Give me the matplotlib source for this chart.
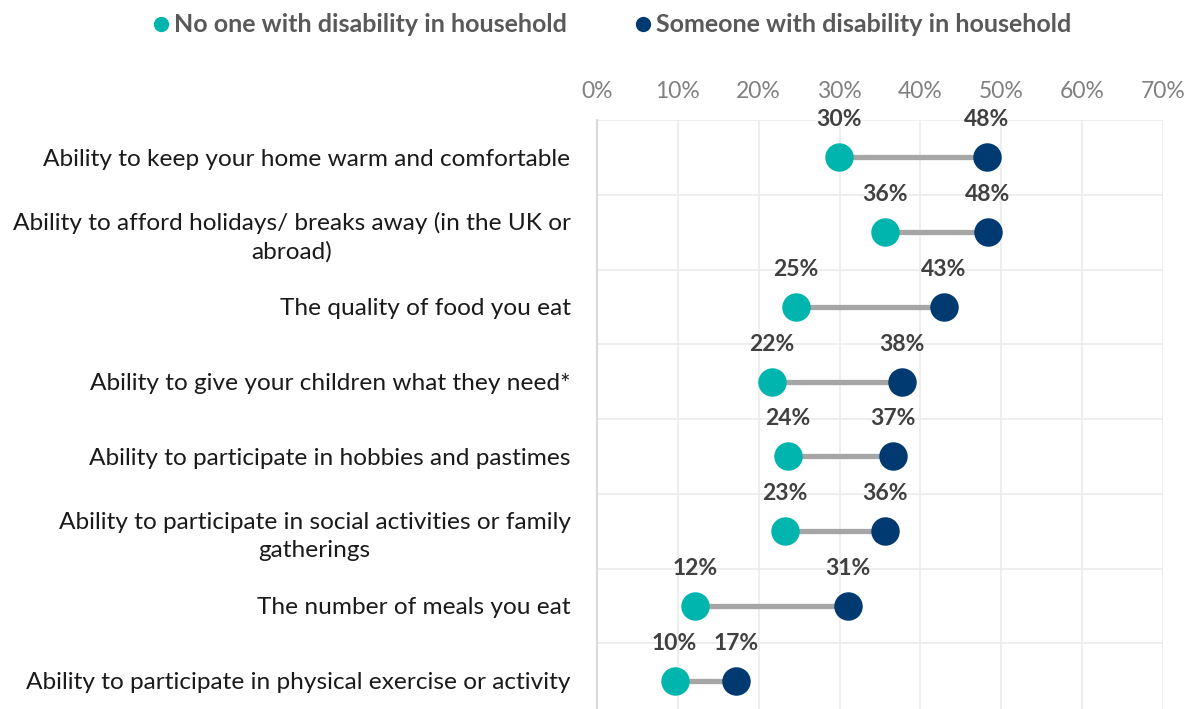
import matplotlib
matplotlib.use("Agg")
import matplotlib.pyplot as plt
from matplotlib.lines import Line2D
import numpy as np

plt.rcParams["font.family"] = ["Lato", "DejaVu Sans"]

categories = [
    "Ability to keep your home warm and comfortable",
    "Ability to afford holidays/ breaks away (in the UK or\nabroad)",
    "The quality of food you eat",
    "Ability to give your children what they need*",
    "Ability to participate in hobbies and pastimes",
    "Ability to participate in social activities or family\ngatherings",
    "The number of meals you eat",
    "Ability to participate in physical exercise or activity",
]
no_disability = [29.9, 35.6, 24.6, 21.6, 23.6, 23.2, 12.1, 9.6]
with_disability = [48.2, 48.3, 42.9, 37.7, 36.6, 35.6, 31.0, 17.2]
series_names = ["No one with disability in household",
                "Someone with disability in household"]
x_ticks = [0, 10, 20, 30, 40, 50, 60, 70]

TEAL = "#00b5ad"
NAVY = "#003a70"

fig = plt.figure(figsize=(11.9, 7.09), dpi=100)
fig.patch.set_facecolor("white")
ax = fig.add_axes([597 / 1190, -9 / 709, 566 / 1190, 598 / 709])

y = np.arange(len(categories)) + 0.5
for yi, a, b in zip(y, no_disability, with_disability):
    ax.plot([a, b], [yi, yi], color="#a6a6a6", lw=3.8, zorder=2, solid_capstyle="butt")
ax.plot(no_disability, y, "o", color=TEAL, ms=20.5, zorder=3, mec="none")
ax.plot(with_disability, y, "o", color=NAVY, ms=20.5, zorder=3, mec="none")

for yi, a, b in zip(y, no_disability, with_disability):
    for v in (a, b):
        ax.annotate(f"{v:.0f}%", (v, yi), xytext=(0, 27), textcoords="offset points",
                    ha="center", va="center", fontsize=16.5, fontweight="bold",
                    color="#404040")

ax.set_xlim(0, 70)
ax.set_ylim(len(categories), 0)
ax.xaxis.tick_top()
ax.set_xticks(x_ticks)
ax.set_xticklabels([f"{t}%" for t in x_ticks], fontsize=16.5, color="#808080")
ax.tick_params(axis="x", length=0, pad=13)
ax.set_yticks(y)
ax.set_yticklabels(categories, fontsize=17.6, color="#1a1a1a", linespacing=1.4)
for lbl in ax.get_yticklabels():
    lbl.set_multialignment("center")
ax.tick_params(axis="y", length=0, pad=19)
ax.set_yticks(np.arange(0, len(categories)), minor=True)
ax.tick_params(axis="y", which="minor", length=0)
ax.grid(axis="x", which="major", color="#ebebeb", lw=1.2)
ax.grid(axis="y", which="minor", color="#ebebeb", lw=1.2)
ax.set_axisbelow(True)
for s in ["top", "right", "bottom"]:
    ax.spines[s].set_visible(False)
ax.spines["left"].set_color("#d9d9d9")
ax.spines["left"].set_linewidth(1.5)

handles = [
    Line2D([0], [0], marker="o", color="w", markerfacecolor=TEAL, markeredgecolor="none",
           markersize=11, label=series_names[0]),
    Line2D([0], [0], marker="o", color="w", markerfacecolor=NAVY, markeredgecolor="none",
           markersize=11, label=series_names[1]),
]
leg = fig.legend(handles=handles, loc="center", bbox_to_anchor=(613 / 1190, 1 - 25 / 709),
                 ncol=2, frameon=False, handlelength=0.5, handletextpad=0.25,
                 columnspacing=2.8, prop={"size": 18, "weight": "bold"})
for t in leg.get_texts():
    t.set_color("#595959")

fig.savefig("out.png", dpi=100, facecolor="white")
